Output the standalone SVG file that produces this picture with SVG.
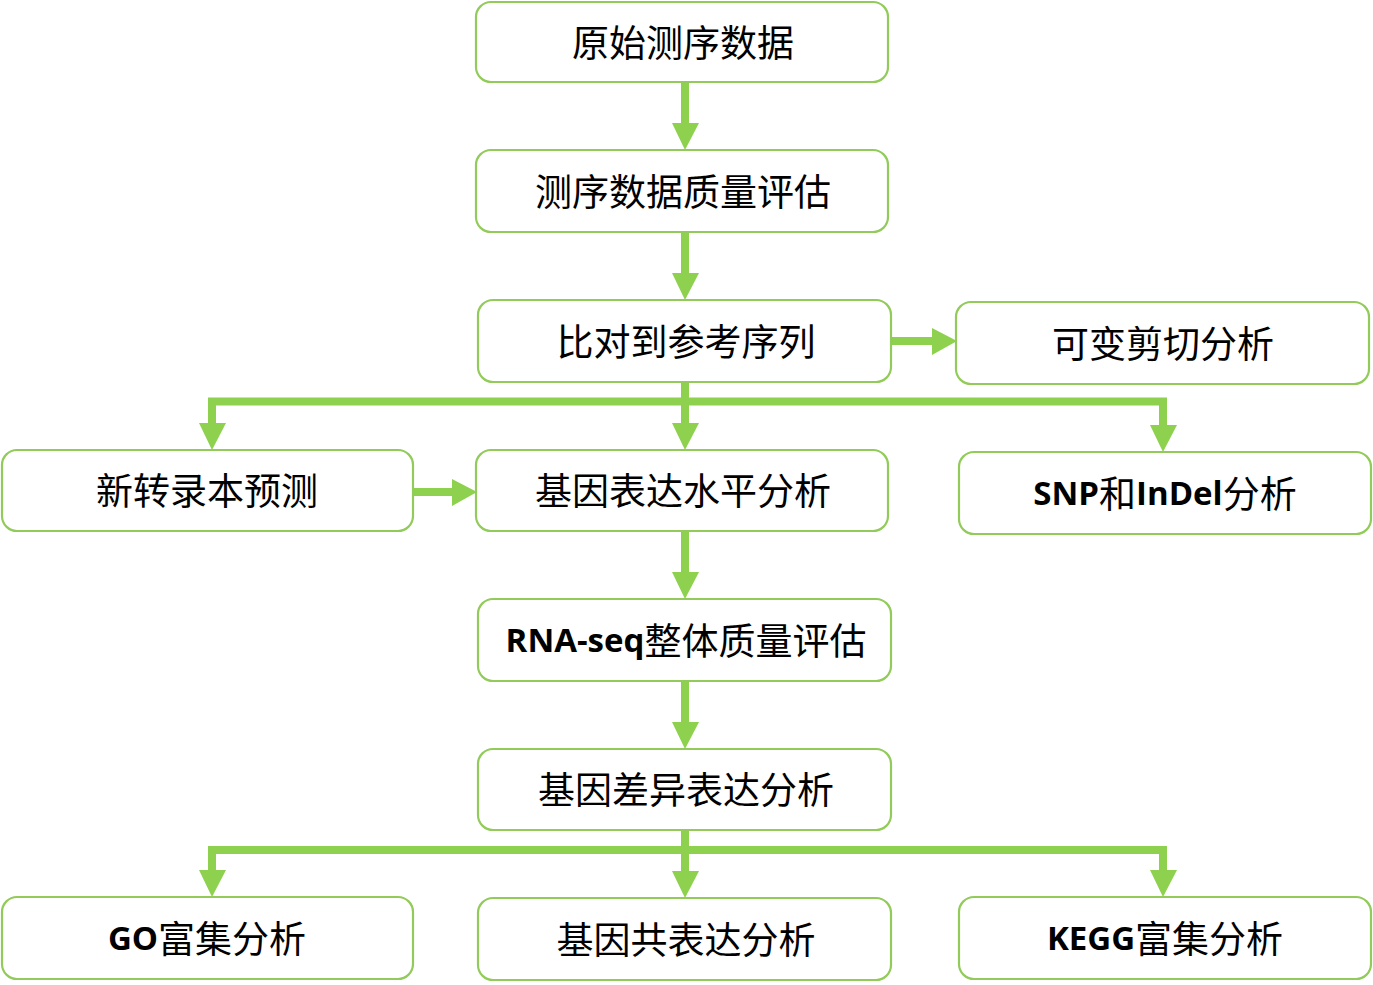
<svg xmlns="http://www.w3.org/2000/svg" width="1373" height="985" viewBox="0 0 1373 985">
<defs>
<style>
.box{fill:#fff;stroke:#92CB5A;stroke-width:2.2}
.t{font-family:"Noto Sans CJK SC","Noto Sans CJK JP",sans-serif;font-size:37px;fill:#000;text-anchor:middle;dominant-baseline:central}
.b{font-family:"Open Sans","Noto Sans CJK SC",sans-serif;font-weight:bold;font-size:33px}
.ln{stroke:#8DD14F;stroke-width:8;fill:none}
.hd{fill:#8DD14F}
</style>
</defs>
<rect width="1373" height="985" fill="#fff"/>
<g id="connectors">
<line class="ln" x1="685" y1="82" x2="685" y2="125"/><polygon class="hd" points="672,123 699,123 685,150"/>
<line class="ln" x1="685" y1="232" x2="685" y2="275"/><polygon class="hd" points="672,273 699,273 685,300"/>
<line class="ln" x1="891" y1="341" x2="934" y2="341"/><polygon class="hd" points="932,328 932,355 957,341"/>
<line class="ln" x1="685" y1="382" x2="685" y2="425"/><polygon class="hd" points="672,423 699,423 685,450"/>
<polyline class="ln" points="212,427 212,401.5 1163,401.5 1163,429"/>
<polygon class="hd" points="199,423 226,423 212,450"/>
<polygon class="hd" points="1150,425 1177,425 1163,452"/>
<line class="ln" x1="413" y1="492" x2="454" y2="492"/><polygon class="hd" points="452,479 452,506 477,492"/>
<line class="ln" x1="685" y1="531" x2="685" y2="574"/><polygon class="hd" points="672,572 699,572 685,599"/>
<line class="ln" x1="685" y1="681" x2="685" y2="724"/><polygon class="hd" points="672,722 699,722 685,749"/>
<line class="ln" x1="685" y1="830" x2="685" y2="873"/><polygon class="hd" points="672,871 699,871 685,898"/>
<polyline class="ln" points="212,874 212,850 1163,850 1163,874"/>
<polygon class="hd" points="199,870 226,870 212,897"/>
<polygon class="hd" points="1150,870 1177,870 1163,897"/>
</g>
<g id="n1"><rect class="box" x="476" y="2" width="412" height="80" rx="15"/><text class="t" x="683" y="41">原始测序数据</text></g>
<g id="n2"><rect class="box" x="476" y="150" width="412" height="82" rx="15"/><text class="t" x="683" y="190">测序数据质量评估</text></g>
<g id="n3"><rect class="box" x="478" y="300" width="413" height="82" rx="15"/><text class="t" x="686" y="340">比对到参考序列</text></g>
<g id="n4"><rect class="box" x="956" y="302" width="413" height="82" rx="15"/><text class="t" x="1163" y="342">可变剪切分析</text></g>
<g id="n5"><rect class="box" x="2" y="450" width="411" height="81" rx="15"/><text class="t" x="207" y="489">新转录本预测</text></g>
<g id="n6"><rect class="box" x="476" y="450" width="412" height="81" rx="15"/><text class="t" x="683" y="489">基因表达水平分析</text></g>
<g id="n7"><rect class="box" x="959" y="452" width="412" height="82" rx="15"/><text class="t" x="1165" y="492"><tspan class="b">SNP</tspan>和<tspan class="b">InDel</tspan>分析</text></g>
<g id="n8"><rect class="box" x="478" y="599" width="413" height="82" rx="15"/><text class="t" x="686" y="639"><tspan class="b">RNA-seq</tspan>整体质量评估</text></g>
<g id="n9"><rect class="box" x="478" y="749" width="413" height="81" rx="15"/><text class="t" x="686" y="788">基因差异表达分析</text></g>
<g id="n10"><rect class="box" x="2" y="897" width="411" height="82" rx="15"/><text class="t" x="207" y="937"><tspan class="b">GO</tspan>富集分析</text></g>
<g id="n11"><rect class="box" x="478" y="898" width="413" height="82" rx="15"/><text class="t" x="686" y="938">基因共表达分析</text></g>
<g id="n12"><rect class="box" x="959" y="897" width="412" height="82" rx="15"/><text class="t" x="1165" y="937"><tspan class="b">KEGG</tspan>富集分析</text></g>
</svg>
